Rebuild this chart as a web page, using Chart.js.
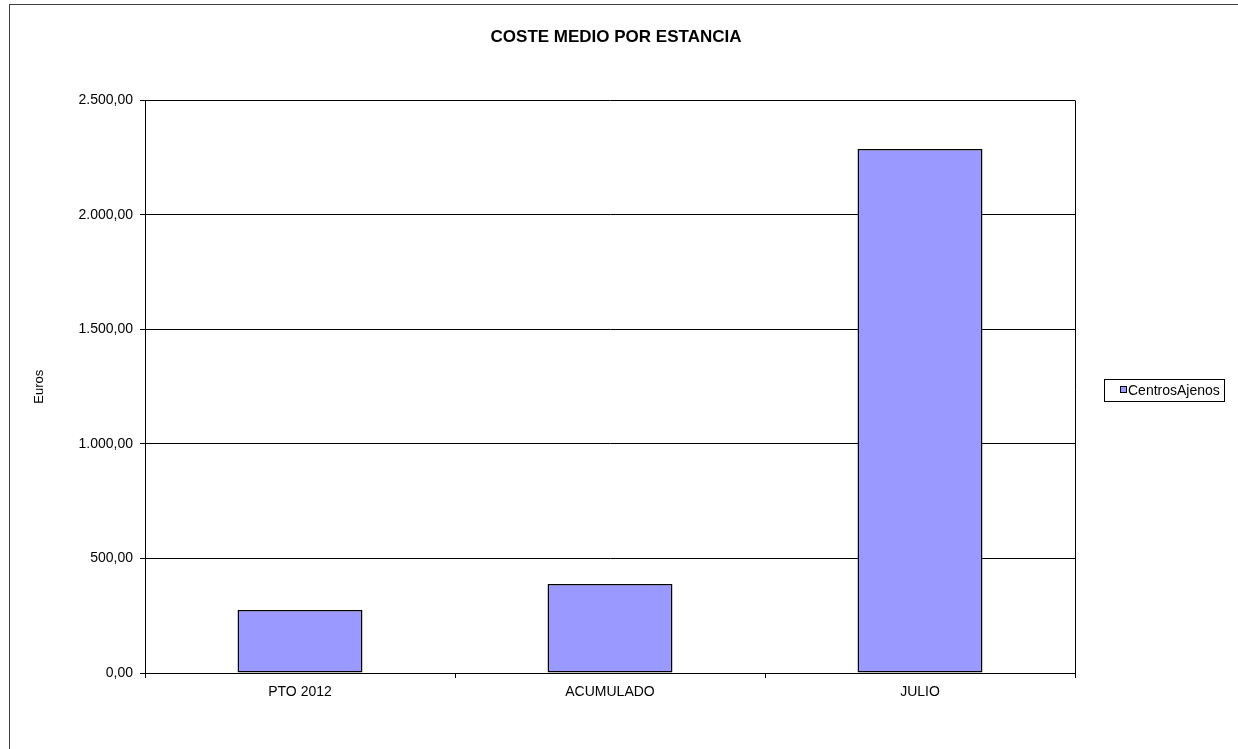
<!DOCTYPE html>
<html>
<head>
<meta charset="utf-8">
<script src="https://cdn.jsdelivr.net/npm/chart.js@4/dist/chart.umd.min.js"></script>
<style>
  html, body { margin: 0; padding: 0; background: #fff; }
  #wrap { width: 1238px; height: 749px; }
</style>
</head>
<body>
<div id="wrap"><canvas id="costChart" width="1238" height="749"></canvas></div>
<script>
// chart values
const categories = ['PTO 2012', 'ACUMULADO', 'JULIO'];
const seriesName = 'CentrosAjenos';
const costValues = [275, 389, 2288];
const yTicks = [0, 500, 1000, 1500, 2000, 2500];

const FONT = "'Liberation Sans', Arial, sans-serif";

// 1500 -> "1.500,00"
function formatEuro(v) {
	const parts = v.toFixed(2).split('.');
	parts[0] = parts[0].replace(/\B(?=(\d{3})+(?!\d))/g, '.');
	return parts.join(',');
}

// outer frame, right plot border and the legend box
const framePlugin = {
	id: 'frame',
	afterDraw(chart) {
		const ctx = chart.ctx;
		const area = chart.chartArea;
		ctx.save();
		ctx.strokeStyle = '#404040';
		ctx.lineWidth = 1;
		ctx.strokeRect(9.5, 4.5, 1300, 800);

		ctx.strokeStyle = '#000';
		ctx.beginPath();
		ctx.moveTo(Math.round(area.right) + 0.5, area.top);
		ctx.lineTo(Math.round(area.right) + 0.5, area.bottom + 5);
		ctx.stroke();

		// legend
		const ds = chart.data.datasets[0];
		ctx.strokeRect(1104.5, 379.5, 120, 22);
		ctx.fillStyle = ds.backgroundColor;
		ctx.fillRect(1120, 386, 7, 7);
		ctx.strokeRect(1120.5, 386.5, 6, 6);
		ctx.fillStyle = '#000';
		ctx.font = '14px ' + FONT;
		ctx.textBaseline = 'middle';
		ctx.fillText(ds.label, 1128, 391);
		ctx.restore();
	}
};

new Chart(document.getElementById('costChart').getContext('2d'), {
	type: 'bar',
	data: {
		labels: categories,
		datasets: [{
			label: seriesName,
			data: costValues,
			backgroundColor: '#9999FF',
			borderColor: '#000',
			borderWidth: 1.5,
			borderSkipped: false,
			barPercentage: 0.403,
			categoryPercentage: 1,
			yAxisID: 'y'
		}]
	},
	options: {
		responsive: false,
		animation: false,
		layout: { padding: { left: 0, right: 6, top: 0, bottom: 0 } },
		plugins: {
			legend: { display: false },
			tooltip: { enabled: false },
			title: {
				display: true,
				text: 'COSTE MEDIO POR ESTANCIA',
				color: '#000',
				font: { family: FONT, size: 17, weight: 'bold' },
				padding: { top: 27, bottom: 53 }
			}
		},
		scales: {
			x: {
				grid: {
					offset: true,
					drawOnChartArea: false,
					tickLength: 5,
					color: '#000'
				},
				border: { display: true, color: '#000', width: 1 },
				ticks: {
					color: '#000',
					padding: 6,
					maxRotation: 0,
					font: { family: FONT, size: 14 }
				},
				afterFit(scale) { scale.height = 76; }
			},
			y: {
				min: 0,
				max: 2500,
				afterBuildTicks(scale) {
					scale.ticks = yTicks.map(v => ({ value: v }));
				},
				grid: { color: '#000', tickLength: 5, lineWidth: 1 },
				border: { display: true, color: '#000', width: 1 },
				ticks: {
					color: '#000',
					padding: 7,
					font: { family: FONT, size: 14 },
					callback: (v) => formatEuro(v)
				},
				title: {
					display: true,
					text: 'Euros',
					color: '#000',
					font: { family: FONT, size: 13 },
					padding: { top: 32, bottom: 0 }
				},
				afterFit(scale) { scale.width = 145; }
			},
			y2: {
				position: 'right',
				min: 0,
				max: 2500,
				grid: { display: false },
				border: { display: false },
				ticks: { display: false },
				afterFit(scale) { scale.width = 157; }
			}
		}
	},
	plugins: [framePlugin]
});
</script>
</body>
</html>
